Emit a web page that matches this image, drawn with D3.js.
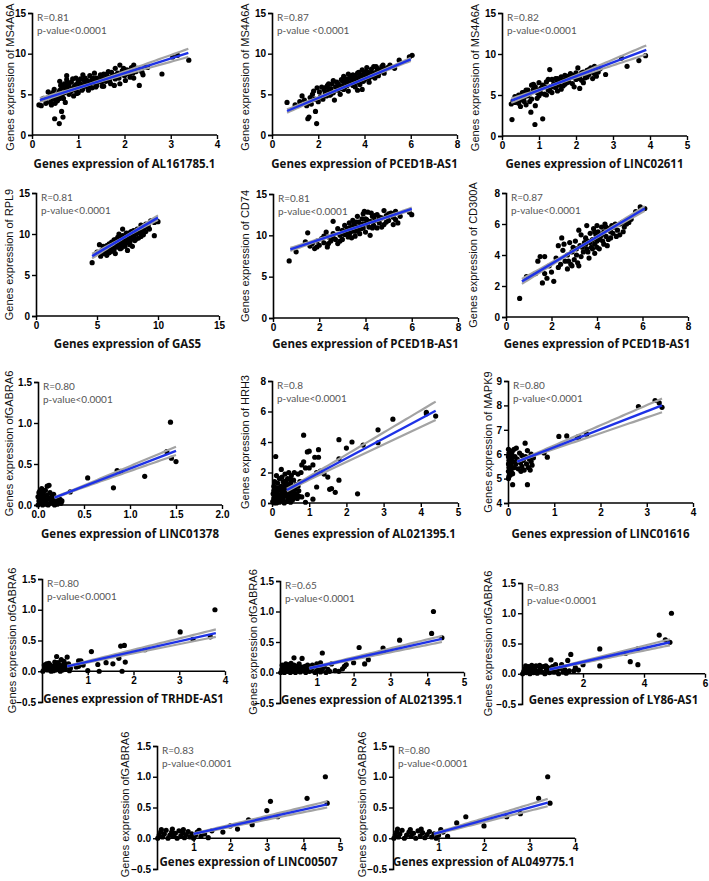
<!DOCTYPE html>
<html><head><meta charset="utf-8">
<script src="https://cdn.jsdelivr.net/npm/d3@7"></script>
<style>body{margin:0;background:#fff}svg{display:block}</style>
</head><body><svg id="c" width="709" height="881"></svg>
<script>
// ---------------- DATA ----------------
const xTitles = ["Genes expression of AL161785.1","Genes expression of PCED1B-AS1","Genes expression of LINC02611",
 "Genes expression of GAS5","Genes expression of PCED1B-AS1","Genes expression of PCED1B-AS1",
 "Genes expression of LINC01378","Genes expression of AL021395.1","Genes expression of LINC01616",
 "Genes expression of TRHDE-AS1","Genes expression of AL021395.1","Genes expression of LY86-AS1",
 "Genes expression of LINC00507","Genes expression of AL049775.1"];
const yTitles = ["Genes expression of MS4A6A","Genes expression of MS4A6A","Genes expression of MS4A6A",
 "Genes expression of RPL9","Genes expression of CD74","Genes expression of CD300A",
 "Genes expression ofGABRA6","Genes expression of HRH3","Genes expression of MAPK9",
 "Genes expression ofGABRA6","Genes expression ofGABRA6","Genes expression ofGABRA6",
 "Genes expression ofGABRA6","Genes expression ofGABRA6"];
const rTexts = ["R=0.81","R=0.87","R=0.82","R=0.81","R=0.81","R=0.87","R=0.80","R=0.8","R=0.80","R=0.80","R=0.65","R=0.83","R=0.83","R=0.80"];
const pTexts = ["p-value<0.0001","p-value <0.0001","p-value<0.0001","p-value<0.0001","p-value<0.0001","p-value<0.0001","p-value<0.0001",
 "p-value<0.0001","p-value<0.0001","p-value<0.0001","p-value<0.0001","p-value<0.0001","p-value<0.0001","p-value<0.0001"];
const xDomains = [[0,4],[0,8],[0,5],[0,15],[0,8],[0,8],[0,2],[0,5],[0,4],[0,4],[0,5],[0,6],[0,5],[0,4]];
const yDomains = [[0,15],[0,15],[0,15],[0,15],[0,15],[0,8],[0,1.5],[0,8],[4,9],[-0.5,1.5],[-0.5,1.5],[-0.5,1.5],[-0.5,1.5],[-0.5,1.5]];
const xTicks = [[0,1,2,3,4],[0,2,4,6,8],[0,1,2,3,4,5],[0,5,10,15],[0,2,4,6,8],[0,2,4,6,8],[0,0.5,1,1.5,2],[0,1,2,3,4,5],[0,1,2,3,4],
 [1,2,3,4],[1,2,3,4,5],[2,4,6],[1,2,3,4,5],[1,2,3,4]];
const yTicks = [[0,5,10,15],[0,5,10,15],[0,5,10,15],[0,5,10,15],[0,5,10,15],[0,2,4,6,8],[0,0.5,1,1.5],[0,2,4,6,8],[4,5,6,7,8,9],
 [-0.5,0,0.5,1,1.5],[-0.5,0,0.5,1,1.5],[-0.5,0,0.5,1,1.5],[-0.5,0,0.5,1,1.5],[-0.5,0,0.5,1,1.5]];
// regression line [x0,y0,x1,y1]
const fits = [[0.17,4.3,3.38,10.1],[0.65,2.95,6.0,9.3],[0.25,4.3,3.9,10.5],[4.6,7.3,10.0,12.0],[0.75,8.3,6.0,13.2],[0.7,2.3,6.1,7.0],
 [0.18,0.09,1.5,0.66],[0.4,0.85,4.4,6.05],[0.2,5.7,3.33,8.0],[0.55,0.08,3.8,0.62],[0.8,0.07,4.4,0.55],[0.9,0.07,4.85,0.52],
 [1.0,0.07,4.65,0.55],[0.9,0.07,3.4,0.58]];
// confidence band [centre x, half width at centre, half width at far end]
const bands = [[1.2,0.06,0.5],[3.4,0.04,0.2],[1.4,0.06,0.55],[7.3,0.04,0.28],[3.6,0.04,0.18],[3.5,0.03,0.16],[0.25,0.006,0.05],
 [0.5,0.08,0.6],[0.2,0.02,0.28],[0.4,0.006,0.06],[0.6,0.006,0.05],[0.6,0.006,0.05],[0.6,0.006,0.05],[0.5,0.006,0.06]];

const pts1 = [[0.15,3.7],[0.2,3.6],[0.25,4.5],[0.3,3.9],[0.3,4.3],[0.35,4.6],[0.4,4.0],[0.4,4.9],[0.45,4.4],[0.45,5.2],[0.5,4.8],[0.5,3.9],[0.49,2.0],[0.55,5.0],[0.55,4.2],[0.59,1.4],[0.6,5.5],[0.6,4.5],[0.64,2.9],[0.67,2.2],[0.65,5.8],[0.65,4.9],[0.7,6.3],[0.7,5.2],[0.72,4.0],[0.75,7.3],[0.75,5.6],[0.75,6.8],[0.8,5.0],[0.8,6.0],[0.85,5.4],[0.85,6.5],[0.9,5.8],[0.9,4.8],[0.95,6.2],[0.95,5.5],[1.0,6.6],[1.0,5.9],[1.0,5.2],[1.05,6.9],[1.05,6.3],[1.1,5.7],[1.1,6.1],[1.15,7.0],[1.15,6.5],[1.2,5.9],[1.2,6.7],[1.25,7.3],[1.25,6.2],[1.3,6.8],[1.3,5.8],[1.35,7.6],[1.35,6.4],[1.4,7.0],[1.4,6.1],[1.45,6.7],[1.5,7.2],[1.5,6.5],[1.55,7.5],[1.55,6.0],[1.6,7.0],[1.6,6.6],[1.65,7.8],[1.7,7.1],[1.7,6.3],[1.75,7.4],[1.8,8.2],[1.8,6.9],[1.85,7.6],[1.9,8.6],[1.9,6.3],[1.95,7.9],[2.0,7.3],[2.05,8.0],[2.1,7.5],[2.15,8.3],[2.2,8.6],[2.2,7.0],[2.25,7.8],[2.32,6.1],[2.35,8.0],[2.4,7.4],[2.45,8.4],[2.5,8.3],[2.81,7.5],[3.04,9.6],[3.15,9.8],[3.39,9.2],
 [0.35,5.3],[0.42,3.7],[0.48,5.6],[0.52,4.4],[0.58,5.2],[0.62,6.1],[0.68,4.5],[0.72,5.9],[0.78,6.4],[0.82,5.3],[0.88,6.9],[0.92,6.0],[0.97,5.1],[1.02,6.3],[1.08,5.5],[1.12,6.8],[1.18,6.2],[1.22,5.5],[1.28,6.5],[1.32,7.0],[1.38,5.9],[1.42,6.6],[1.48,7.4],[1.52,6.0],[1.58,6.8],[1.62,7.5],[1.68,6.6],[1.72,7.7],[1.78,6.1],[1.82,7.3],[1.88,7.0],[1.92,7.5],[1.98,8.2],[2.02,6.7],[2.08,7.9],[2.12,7.1],[2.18,7.6],[2.28,8.2],[2.38,7.7],[0.95,7.0],[1.1,7.4],[0.6,6.6]];
const pts2 = [[0.65,4.0],[1.0,3.7],[1.3,4.8],[1.4,4.3],[1.5,3.6],[1.55,2.0],[1.6,2.2],[1.65,4.6],[1.7,3.8],[1.75,5.0],[1.85,4.4],[1.88,2.9],[1.93,1.4],[1.95,5.8],[2.0,4.1],[2.1,4.7],[2.15,5.9],[2.2,4.4],[2.3,5.2],[2.35,4.8],[2.4,6.1],[2.45,5.5],[2.5,4.9],[2.55,5.7],[2.6,6.3],[2.65,5.2],[2.7,4.3],[2.75,5.9],[2.8,6.5],[2.85,5.5],[2.9,6.1],[2.95,5.0],[3.0,6.8],[3.05,6.0],[3.1,7.2],[3.1,5.6],[3.15,6.5],[3.2,6.9],[3.25,6.1],[3.3,5.4],[3.35,7.0],[3.4,6.4],[3.45,6.9],[3.5,7.4],[3.5,6.1],[3.55,6.7],[3.6,7.2],[3.65,6.5],[3.7,7.6],[3.7,5.5],[3.75,6.9],[3.8,7.3],[3.85,6.6],[3.9,8.0],[3.9,7.0],[3.95,7.5],[4.0,6.8],[4.05,7.8],[4.1,7.2],[4.1,8.3],[4.2,7.0],[4.25,7.6],[4.3,8.1],[4.35,7.4],[4.4,8.4],[4.5,7.7],[4.55,8.2],[4.6,7.3],[4.7,8.0],[4.8,8.6],[4.9,8.1],[5.1,8.6],[5.5,9.2],[5.3,8.2],[5.94,9.6],[6.06,9.8],
 [1.2,4.1],[1.8,5.4],[2.05,5.3],[2.25,5.6],[2.45,6.3],[2.55,5.0],[2.65,6.7],[2.85,6.3],[2.95,5.7],[3.05,6.6],[3.15,5.9],[3.25,6.7],[3.35,6.3],[3.45,7.3],[3.55,6.2],[3.6,5.9],[3.65,7.0],[3.75,7.7],[3.8,6.2],[3.85,7.1],[3.95,6.6],[4.0,7.3],[4.05,7.0],[4.15,7.7],[4.2,6.5],[4.3,7.2],[4.4,7.6],[4.45,7.0],[4.5,8.4],[4.65,7.7],[4.75,8.4],[4.85,7.6],[5.0,8.3],[2.35,5.9],[3.3,7.5],[3.9,5.6]];
const pts3 = [[0.25,3.9],[0.27,2.0],[0.3,4.3],[0.35,4.1],[0.4,4.6],[0.45,4.0],[0.45,5.0],[0.5,4.4],[0.55,4.8],[0.6,5.3],[0.6,4.2],[0.65,5.6],[0.65,3.8],[0.7,4.9],[0.75,5.2],[0.78,2.9],[0.8,6.2],[0.8,4.5],[0.85,5.7],[0.89,1.4],[0.9,3.7],[0.9,6.0],[0.95,5.3],[1.0,6.5],[1.0,4.9],[1.05,5.8],[1.1,2.1],[1.1,6.2],[1.15,5.1],[1.2,6.6],[1.25,5.6],[1.29,8.1],[1.3,6.0],[1.35,6.9],[1.35,5.3],[1.4,6.4],[1.45,5.9],[1.5,7.0],[1.5,6.6],[1.55,6.2],[1.6,7.2],[1.6,5.7],[1.65,6.8],[1.7,7.4],[1.7,6.3],[1.75,7.0],[1.8,6.6],[1.85,7.6],[1.9,7.2],[1.95,6.0],[2.0,7.7],[2.0,6.9],[2.05,8.3],[2.1,7.3],[2.1,5.8],[2.15,6.8],[2.2,7.8],[2.25,7.1],[2.3,8.0],[2.35,7.5],[2.4,8.3],[2.45,7.0],[2.5,8.5],[2.55,7.3],[2.6,7.8],[2.65,8.2],[2.8,7.5],[3.23,9.5],[3.38,8.5],[3.7,9.2],[3.88,9.8],
 [0.35,4.8],[0.5,3.6],[0.55,5.3],[0.7,5.6],[0.75,4.2],[0.85,6.3],[0.95,4.6],[1.05,5.2],[1.15,6.0],[1.2,5.0],[1.25,6.9],[1.3,5.5],[1.4,6.0],[1.45,7.0],[1.5,5.5],[1.55,6.8],[1.65,6.1],[1.75,6.5],[1.8,7.3],[1.9,6.4],[1.95,7.4],[2.05,7.0],[2.15,7.7],[2.2,6.5],[2.3,7.2],[2.35,8.1],[2.45,7.8],[2.55,8.0],[2.5,7.6],[1.0,5.6],[0.6,4.7]];
const pts4 = [[4.6,6.5],[5.0,7.8],[5.2,8.7],[5.3,7.3],[5.4,8.0],[5.5,7.6],[5.6,8.3],[5.7,7.9],[5.8,8.6],[5.8,7.4],[5.9,8.1],[6.0,8.8],[6.0,7.7],[6.1,8.4],[6.2,9.0],[6.2,7.9],[6.3,8.6],[6.4,8.1],[6.4,9.3],[6.5,8.8],[6.5,7.6],[6.6,9.0],[6.7,8.4],[6.7,9.6],[6.8,8.9],[6.8,10.0],[6.9,8.2],[7.0,9.2],[7.0,8.7],[7.1,9.8],[7.1,10.6],[7.2,9.0],[7.3,9.5],[7.3,8.5],[7.4,10.1],[7.5,9.2],[7.5,8.0],[7.6,9.7],[7.7,9.1],[7.8,10.3],[7.8,9.4],[7.9,8.5],[8.0,9.8],[8.1,9.2],[8.2,10.0],[8.3,10.6],[8.4,9.5],[8.5,10.2],[8.6,11.1],[8.7,10.4],[8.8,9.9],[8.9,10.8],[9.0,10.3],[9.2,11.0],[9.4,11.6],[9.7,9.8],[9.7,11.4],[10.0,11.5],
 [5.5,8.5],[5.7,8.2],[6.0,8.3],[6.1,7.9],[6.3,8.2],[6.5,9.3],[6.6,8.5],[6.9,9.5],[7.0,8.3],[7.2,9.6],[7.4,8.9],[7.5,9.8],[7.7,8.7],[7.9,9.6],[8.0,10.4],[8.2,9.4],[8.4,10.2],[8.6,9.7],[8.8,10.6],[9.0,11.2],[9.3,10.6],[6.2,8.6],[6.8,9.2],[7.6,10.1]];
const pts5 = [[0.7,6.9],[1.0,8.0],[1.4,9.2],[1.5,10.3],[1.6,8.7],[1.7,9.0],[1.8,8.4],[1.9,9.3],[2.0,8.8],[2.1,9.6],[2.2,9.1],[2.3,10.4],[2.35,8.6],[2.4,9.8],[2.5,9.3],[2.6,10.2],[2.6,11.7],[2.7,9.5],[2.8,10.8],[2.8,9.0],[2.9,10.0],[3.0,10.6],[3.0,9.5],[3.1,11.2],[3.1,10.1],[3.2,10.8],[3.25,9.8],[3.3,11.5],[3.35,10.4],[3.4,11.0],[3.45,11.8],[3.5,10.5],[3.5,11.3],[3.55,9.9],[3.6,11.0],[3.65,12.3],[3.7,10.7],[3.7,11.6],[3.75,10.2],[3.8,11.2],[3.85,12.0],[3.9,10.9],[3.9,12.6],[4.0,11.4],[4.0,10.4],[4.05,11.9],[4.1,12.8],[4.15,11.0],[4.2,11.7],[4.2,10.0],[4.3,12.3],[4.35,11.2],[4.4,11.8],[4.5,12.5],[4.5,10.9],[4.6,11.5],[4.7,12.1],[4.8,13.0],[4.8,11.3],[4.9,12.4],[5.0,11.8],[5.1,12.7],[5.2,12.2],[5.3,12.9],[5.4,11.5],[5.5,12.3],[5.9,12.8],[6.0,12.5],
 [1.9,8.6],[2.2,9.9],[2.4,9.0],[2.6,9.7],[2.9,9.3],[3.0,10.2],[3.2,10.4],[3.3,10.9],[3.4,9.7],[3.6,10.5],[3.6,11.6],[3.8,10.8],[3.9,11.4],[4.0,12.0],[4.1,11.5],[4.3,10.9],[4.4,12.4],[4.6,12.2],[4.7,11.0],[4.9,11.6],[5.0,12.6],[5.2,11.3],[5.3,11.9],[3.95,12.9],[4.25,12.7],[3.3,10.1]];
const pts6 = [[0.6,1.2],[0.9,2.6],[1.3,2.8],[1.4,3.6],[1.5,3.9],[1.6,2.2],[1.7,3.9],[1.7,2.8],[1.8,2.5],[1.9,3.3],[2.0,2.9],[2.1,2.3],[2.2,3.8],[2.3,4.6],[2.4,3.4],[2.45,5.1],[2.5,4.3],[2.6,3.6],[2.7,4.0],[2.7,3.1],[2.8,4.8],[2.85,3.4],[2.9,4.2],[3.0,3.7],[3.05,4.9],[3.1,4.4],[3.15,3.5],[3.2,5.6],[3.25,4.6],[3.3,3.9],[3.3,5.3],[3.4,4.2],[3.45,4.8],[3.5,5.1],[3.55,4.4],[3.6,4.9],[3.65,3.8],[3.7,5.4],[3.75,4.5],[3.8,5.0],[3.85,5.7],[3.9,4.7],[3.9,4.1],[3.95,5.3],[4.0,5.9],[4.0,4.9],[4.05,5.5],[4.1,4.4],[4.15,5.2],[4.2,5.8],[4.25,4.9],[4.3,5.5],[4.35,6.0],[4.4,5.2],[4.45,4.6],[4.5,5.7],[4.6,5.1],[4.65,5.9],[4.7,5.4],[4.8,6.0],[4.9,5.6],[5.0,5.3],[5.1,6.1],[5.2,5.8],[5.3,6.0],[5.5,6.3],[5.7,6.8],[5.9,7.1],[6.1,7.0],
 [2.3,3.2],[2.55,4.7],[2.75,3.6],[2.95,4.5],[3.1,4.0],[3.2,3.3],[3.35,4.5],[3.5,4.7],[3.6,4.2],[3.7,4.8],[3.8,4.4],[3.9,5.5],[4.0,4.5],[4.1,5.0],[4.2,5.3],[4.3,4.7],[4.4,5.8],[4.5,5.0],[4.6,5.5],[4.75,5.8],[4.85,5.2],[5.0,6.0],[5.15,5.5],[5.4,6.1],[3.55,5.9],[2.9,3.3]];
const pts7 = [[0.0,0.0],[0.01,0.05],[0.02,0.12],[0.02,0.17],[0.03,0.02],[0.04,0.08],[0.05,0.14],[0.05,0.0],[0.06,0.04],[0.07,0.1],[0.08,0.18],[0.08,0.02],[0.09,0.06],[0.1,0.23],[0.1,0.12],[0.11,0.0],[0.12,0.24],[0.12,0.08],[0.13,0.15],[0.14,0.03],[0.15,0.1],[0.16,0.05],[0.17,0.13],[0.18,0.0],[0.19,0.07],[0.2,0.04],[0.21,0.01],[0.22,0.06],[0.23,0.03],[0.24,0.07],[0.25,0.02],[0.26,0.05],[0.03,0.13],[0.06,0.16],[0.09,0.01],[0.13,0.02],[0.04,0.2],[0.0,0.1],[0.01,0.15],[0.35,0.16],[0.54,0.33],[0.82,0.21],[0.86,0.42],[0.9,0.41],[1.16,0.35],[1.4,0.65],[1.44,1.01],[1.45,0.57],[1.5,0.53]];
const pts8 = [[0.1,3.05],[0.85,4.45],[1.8,4.15],[2.15,4.0],[2.0,3.6],[1.25,3.5],[1.0,3.4],[0.95,3.35],[1.15,3.0],[1.25,3.0],[1.8,2.9],[2.45,3.8],[2.85,4.8],[2.85,3.95],[3.25,5.5],[4.15,5.85],[4.15,5.95],[4.4,5.7],[2.3,0.6],[1.7,0.7],[1.6,0.95],[1.55,0.9],[1.4,1.9],[1.5,1.7],[1.0,2.3],[0.85,2.7],[0.8,2.5],[0.9,2.3],[1.1,2.5],[1.2,2.0],[1.3,2.1],[1.8,1.5],[1.2,1.05],[1.1,0.25],[0.95,0.55],[0.8,0.4],[0.9,0.05],[0.02,0.1],[0.05,0.3],[0.05,0.8],[0.08,0.5],[0.1,1.0],[0.1,0.2],[0.12,1.8],[0.15,0.6],[0.15,1.3],[0.18,0.1],[0.2,0.9],[0.2,1.6],[0.22,0.4],[0.25,2.2],[0.25,1.1],[0.28,0.7],[0.3,0.2],[0.3,1.4],[0.32,0.9],[0.35,1.9],[0.35,0.5],[0.38,1.2],[0.4,0.8],[0.4,0.1],[0.42,1.6],[0.45,2.0],[0.45,1.0],[0.48,0.4],[0.5,1.3],[0.5,0.7],[0.52,1.8],[0.55,0.2],[0.55,1.1],[0.58,1.5],[0.6,0.6],[0.62,0.9],[0.65,1.2],[0.68,0.3],[0.7,1.9],[0.72,0.8],[0.03,0.6],[0.07,1.4],[0.12,0.0],[0.17,1.0],[0.27,1.7],[0.33,1.1],[0.43,0.3],[0.6,2.0],[0.75,1.4],[0.78,2.0],
 [0.05,0.0],[0.08,0.15],[0.1,0.45],[0.13,0.7],[0.16,0.25],[0.2,0.05],[0.23,0.55],[0.26,0.3],[0.3,0.55],[0.33,0.0],[0.36,0.75],[0.4,0.45],[0.44,0.7],[0.47,1.2],[0.5,0.05],[0.53,0.5],[0.57,0.8],[0.62,0.35],[0.66,0.6],[0.7,1.1],[0.72,0.45],[0.15,0.95],[0.25,0.85],[0.05,1.1],[0.38,1.45],[0.5,1.55]];
const pts9 = [[0.1,4.75],[0.42,4.75],[0.37,6.45],[0.78,6.05],[0.85,5.88],[1.1,6.73],[1.27,6.75],[1.5,6.7],[1.53,6.7],[1.7,6.82],[2.82,7.95],[3.18,8.2],[3.27,8.1],[3.33,7.92],[0.01,5.0],[0.01,5.3],[0.01,5.6],[0.01,5.9],[0.01,6.2],[0.02,5.1],[0.02,5.45],[0.02,5.75],[0.02,6.05],[0.03,5.25],[0.03,5.55],[0.03,5.85],[0.04,5.4],[0.04,5.7],[0.04,6.15],[0.05,5.15],[0.05,5.95],[0.06,5.5],[0.06,5.8],[0.07,5.3],[0.07,6.0],[0.08,5.65],[0.09,5.45],[0.1,5.9],[0.1,5.2],[0.12,5.7],[0.13,6.2],[0.14,5.45],[0.15,5.9],[0.17,5.6],[0.2,5.8],[0.22,5.4],[0.25,6.05],[0.27,5.65],[0.3,5.5],[0.3,5.95],[0.33,5.75],[0.35,5.35],[0.38,5.9],[0.4,5.6],[0.42,6.15],[0.44,5.45],[0.46,5.8],[0.48,5.35],[0.5,5.7],[0.5,6.0],[0.52,5.55],[0.55,5.85],[0.18,6.25],[0.09,6.1],[0.28,5.3]];
const pts10 = [[0.8,0.17],[0.85,0.17],[0.75,0.07],[0.9,0.1],[1.0,0.01],[1.08,0.32],[1.22,0.11],[1.25,0.0],[1.4,0.14],[1.55,0.12],[1.68,0.21],[1.72,0.41],[1.75,0.0],[1.8,0.42],[1.82,0.15],[2.25,0.35],[3.02,0.64],[3.3,0.52],[3.68,0.56],[3.78,1.0],[0.8,0.08],[0.02,0.0],[0.05,0.03],[0.08,0.07],[0.1,0.12],[0.12,0.02],[0.15,0.05],[0.18,0.1],[0.2,0.0],[0.22,0.04],[0.25,0.08],[0.28,0.15],[0.3,0.02],[0.32,0.24],[0.35,0.06],[0.38,0.11],[0.4,0.0],[0.42,0.04],[0.45,0.09],[0.48,0.16],[0.5,0.03],[0.52,0.07],[0.55,0.23],[0.58,0.12],[0.6,0.01],[0.05,0.1],[0.15,0.13],[0.25,0.01],[0.35,0.14],[0.45,0.02],[0.1,0.04],[0.3,0.09],[0.5,0.12],[0.42,0.19],[0.2,0.06],[0.62,0.05]];
const pts11 = [[0.38,0.24],[0.6,0.23],[1.1,0.16],[1.15,0.32],[1.4,0.14],[1.6,0.02],[1.7,0.06],[1.75,0.1],[1.8,0.13],[2.0,0.16],[2.15,0.41],[2.3,0.14],[2.4,0.21],[2.8,0.4],[2.82,0.35],[3.25,0.53],[4.12,0.64],[4.17,1.0],[4.4,0.57],[1.0,0.14],[1.3,0.05],[1.5,0.03],[0.02,0.0],[0.05,0.05],[0.08,0.02],[0.1,0.08],[0.12,0.0],[0.15,0.04],[0.18,0.1],[0.2,0.02],[0.22,0.06],[0.25,0.13],[0.28,0.0],[0.3,0.04],[0.33,0.08],[0.35,0.02],[0.4,0.06],[0.42,0.0],[0.45,0.1],[0.48,0.04],[0.5,0.07],[0.55,0.01],[0.58,0.05],[0.6,0.09],[0.65,0.03],[0.7,0.0],[0.72,0.06],[0.75,0.12],[0.8,0.02],[0.85,0.05],[0.9,0.09],[0.95,0.0],[1.0,0.03],[1.05,0.07],[1.1,0.01],[1.15,0.05],[1.2,0.1],[0.06,0.12],[0.16,0.14],[0.38,0.12],[0.52,0.14],[0.68,0.1],[0.88,0.12],[1.25,0.0],[1.35,0.02],[0.3,0.15]];
const pts12 = [[0.95,0.23],[1.1,0.15],[1.3,0.15],[1.5,0.22],[1.6,0.32],[1.7,0.05],[1.75,0.1],[1.85,0.06],[2.0,0.15],[2.55,0.41],[2.55,0.13],[3.4,0.34],[3.55,0.2],[3.8,0.41],[3.8,0.15],[4.5,0.64],[4.7,0.56],[4.85,0.52],[4.9,1.0],[0.02,0.0],[0.06,0.04],[0.1,0.08],[0.14,0.02],[0.18,0.05],[0.22,0.12],[0.26,0.0],[0.3,0.06],[0.34,0.1],[0.38,0.02],[0.42,0.07],[0.46,0.13],[0.5,0.01],[0.55,0.05],[0.6,0.09],[0.65,0.03],[0.7,0.12],[0.75,0.0],[0.8,0.06],[0.85,0.1],[0.9,0.02],[0.95,0.07],[1.0,0.12],[1.05,0.03],[1.15,0.06],[1.2,0.0],[1.25,0.09],[1.35,0.03],[1.4,0.07],[1.45,0.01],[0.12,0.13],[0.32,0.14],[0.58,0.14],[0.78,0.13],[1.1,0.1],[1.55,0.05]];
const pts13 = [[1.5,0.12],[1.8,0.1],[2.0,0.2],[2.2,0.15],[2.5,0.3],[2.6,0.22],[3.0,0.45],[3.1,0.6],[3.3,0.35],[4.1,0.65],[4.6,1.0],[4.65,0.57],[0.02,0.0],[0.06,0.05],[0.1,0.1],[0.15,0.02],[0.2,0.07],[0.25,0.13],[0.3,0.0],[0.35,0.05],[0.4,0.1],[0.45,0.03],[0.5,0.08],[0.55,0.0],[0.6,0.12],[0.65,0.04],[0.7,0.09],[0.75,0.01],[0.8,0.06],[0.85,0.11],[0.9,0.02],[0.95,0.07],[1.0,0.0],[1.05,0.05],[1.1,0.1],[1.2,0.03],[1.3,0.07],[1.4,0.01],[0.12,0.14],[0.42,0.15],[0.72,0.14],[1.15,0.13]];
const pts14 = [[1.4,0.25],[1.6,0.35],[2.0,0.2],[2.5,0.35],[2.8,0.4],[3.2,0.65],[3.4,1.0],[3.45,0.57],[0.02,0.0],[0.05,0.05],[0.08,0.1],[0.12,0.02],[0.15,0.07],[0.2,0.13],[0.25,0.0],[0.3,0.05],[0.35,0.1],[0.4,0.03],[0.45,0.08],[0.5,0.0],[0.55,0.12],[0.6,0.04],[0.65,0.09],[0.7,0.01],[0.75,0.06],[0.8,0.11],[0.85,0.02],[0.9,0.07],[0.95,0.0],[1.0,0.05],[1.1,0.1],[1.2,0.03],[0.1,0.15],[0.38,0.14],[0.62,0.15],[1.05,0.14]];
const allPoints = [pts1,pts2,pts3,pts4,pts5,pts6,pts7,pts8,pts9,pts10,pts11,pts12,pts13,pts14];

// ---------------- LAYOUT (pixels) ----------------
// [left, right, top, bottom, x-title centre y, y-title centre x]
const frames = [[32,217,13,135,164,10],[272,457,13,135,164,245],[502,687,13,136,164,475],
 [36,219,193,316,344,9],[273,458,194,318,344,245],[506,688,193,317,344,473],
 [38,222,382,505,534,9],[272,458,381,503,534,245],[508,693,381,503,534,488],
 [42,225,579,702,699,12],[280,464,581,703,700,253],[522,705,583,704,700,488],
 [157,340,746,869,862,125],[393,575,746,869,862,362]];
// vertical centre offsets for the y titles (keeps row 1 / row 5 titles inside the page)
const yTitleShift = [3,3,3,0,0,0,0,0,0,0,0,0,-3,-3];

const svg = d3.select("#c");
const BLUE = "#1e32e6", GREY = "#a3a3a3";

function fmtFor(ticks){
  const dec = ticks.some(t => Math.abs(t - Math.round(t)) > 1e-9);
  return dec ? d3.format(".1f") : d3.format("d");
}

allPoints.forEach((pts, i) => {
  const [L, R, T, B, ty, yx] = frames[i];
  const x = d3.scaleLinear().domain(xDomains[i]).range([L, R]);
  const y = d3.scaleLinear().domain(yDomains[i]).range([B, T]);
  const g = svg.append("g");

  g.append("g").selectAll("circle").data(pts).join("circle")
    .attr("cx", d => x(d[0])).attr("cy", d => y(d[1])).attr("r", 2.6).attr("fill", "#000");

  const [fx0, fy0, fx1, fy1] = fits[i];
  const slope = (fy1 - fy0) / (fx1 - fx0);
  const lineY = v => fy0 + slope * (v - fx0);
  const [xc, h0, h1] = bands[i];
  const xe = Math.max(Math.abs(fx0 - xc), Math.abs(fx1 - xc));
  const half = v => Math.sqrt(h0*h0 + (h1*h1 - h0*h0) * Math.pow((v - xc) / xe, 2));
  const xs = d3.range(0, 41).map(k => fx0 + (fx1 - fx0) * k / 40);
  const ln = d3.line().x(d => x(d[0])).y(d => y(d[1]));
  [1, -1].forEach(s => {
    g.append("path").attr("d", ln(xs.map(v => [v, lineY(v) + s * half(v)])))
      .attr("fill", "none").attr("stroke", GREY).attr("stroke-width", 2.2);
  });
  g.append("path").attr("d", ln([[fx0, fy0], [fx1, fy1]]))
    .attr("fill", "none").attr("stroke", BLUE).attr("stroke-width", 2.4);

  const yAxis = d3.axisLeft(y).tickValues(yTicks[i]).tickSize(4).tickPadding(2).tickFormat(fmtFor(yTicks[i]));
  const xAxisY = (yDomains[i][0] < 0) ? y(0) : B;
  const xAxis = d3.axisBottom(x).tickValues(xTicks[i]).tickSize(4).tickPadding(2).tickFormat(fmtFor(xTicks[i]));
  const ga = g.append("g").attr("transform", `translate(${L},0)`).call(yAxis);
  const gb = g.append("g").attr("transform", `translate(0,${xAxisY})`).call(xAxis);
  [ga, gb].forEach(a => {
    a.select(".domain").attr("stroke", "#000").attr("stroke-width", 1.6);
    a.selectAll(".tick line").attr("stroke", "#000").attr("stroke-width", 1.4);
    a.selectAll("text").attr("fill", "#000").style("font-family", "'Liberation Sans', Arial, sans-serif")
      .style("font-size", "10px").style("font-weight", "bold");
  });
  gb.select(".domain").attr("d", `M${L},0H${R}`);

  g.append("text").attr("x", (L + R) / 2).attr("y", ty).attr("dy", "0.35em")
    .attr("text-anchor", "middle").style("font-family", "'Open Sans', Lato, sans-serif")
    .style("font-size", "11.5px").style("font-weight", "bold").attr("fill", "#111").text(xTitles[i]);
  g.append("text").attr("transform", `translate(${yx},${(T + B) / 2 + yTitleShift[i]}) rotate(-90)`).attr("dy", "0.35em")
    .attr("text-anchor", "middle").style("font-family", "'Liberation Sans', Arial, sans-serif")
    .style("font-size", "11px").attr("fill", "#111").text(yTitles[i]);

  g.append("text").attr("x", L + 5).attr("y", T + 8).style("font-family", "Lato, sans-serif")
    .style("font-size", "10px").attr("fill", "#555").text(rTexts[i]);
  g.append("text").attr("x", L + 5).attr("y", T + 21).style("font-family", "Lato, sans-serif")
    .style("font-size", "10px").attr("fill", "#555").text(pTexts[i]);
});
</script></body></html>
